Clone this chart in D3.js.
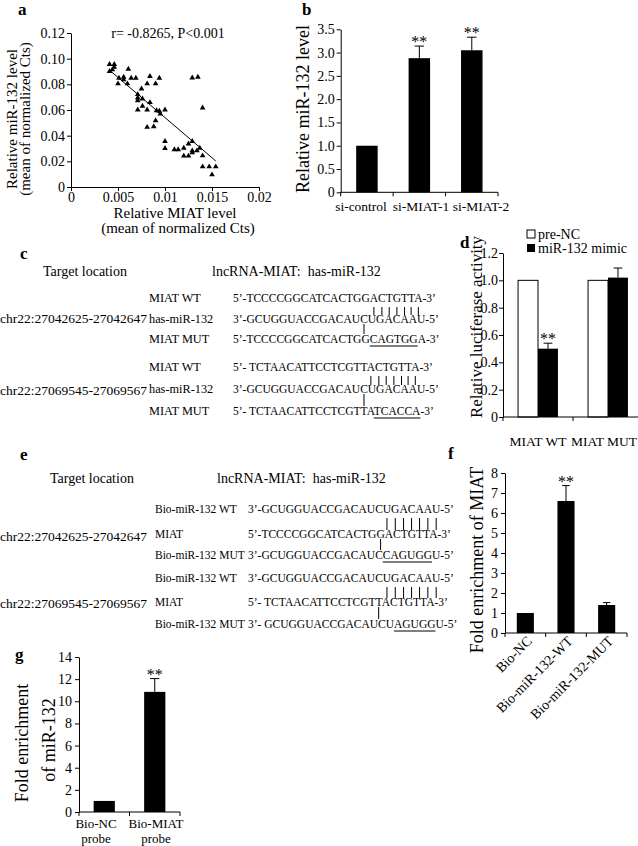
<!DOCTYPE html>
<html><head><meta charset="utf-8">
<script src="https://cdn.jsdelivr.net/npm/d3@7"></script>
<style>
body{margin:0;background:#fff;}
svg text{font-family:"Liberation Serif","Times New Roman",serif;fill:#000;}
</style></head><body>
<svg id="fig" width="638" height="846"></svg>
<script>
// ---------------- DATA ----------------
// panel a : scatter
const scatterX = [0.0041,0.0046,0.0041,0.0044,0.0046,0.0051,0.0056,0.0056,0.0050,0.0061,0.0064,0.0060,0.0069,0.0075,0.0081,0.0084,0.0090,0.0094,
  0.0071,0.0071,0.0071,0.0076,0.0084,0.0071,0.0076,0.0081,0.0091,0.0094,0.0095,0.0100,0.0090,0.0088,0.0081,
  0.0100,0.0100,0.0110,0.0114,0.0120,0.0120,0.0125,0.0125,0.0129,0.0129,0.0129,0.0134,0.0137,0.0140,0.0140,0.0147,0.0154,0.0150,
  0.0129,0.0135,0.0140];
const scatterY = [0.0956,0.0956,0.0901,0.0914,0.0935,0.0849,0.0857,0.0836,0.0805,0.0919,0.0849,0.0805,0.0849,0.0765,0.0805,0.0862,0.0805,0.0849,
  0.0721,0.0695,0.0674,0.0687,0.0659,0.0601,0.0630,0.0601,0.0596,0.0591,0.0570,0.0601,0.0518,0.0471,0.0466,
  0.0356,0.0302,0.0291,0.0291,0.0304,0.0242,0.0242,0.0336,0.0356,0.0283,0.0268,0.0283,0.0304,0.0244,0.0158,0.0158,0.0158,0.0096,
  0.0851,0.0857,0.0617];
const trendX = [0.0041, 0.0154];
const trendY = [0.0910, 0.0203];
const aXTicks = [0, 0.005, 0.01, 0.015, 0.02];
const aXTickLabels = ["0","0.005","0.01","0.015","0.02"];
const aYTicks = [0, 0.02, 0.04, 0.06, 0.08, 0.10, 0.12];
const aYTickLabels = ["0","0.02","0.04","0.06","0.08","0.10","0.12"];
const aStat = "r= -0.8265, P<0.001";

// panel b
const bCategories = ["si-control","si-MIAT-1","si-MIAT-2"];
const bValues = [1.0, 2.88, 3.05];
const bErrors = [0, 0.26, 0.28];
const bStars = ["", "**", "**"];
const bYTicks = [0,0.5,1.0,1.5,2.0,2.5,3.0,3.5];
const bYTickLabels = ["0","0.5","1.0","1.5","2.0","2.5","3.0","3.5"];

// panel c
const cLocations = ["chr22:27042625-27042647","chr22:27069545-27069567"];
const cRowLabels = ["MIAT WT","has-miR-132","MIAT MUT"];
const cSeqs1 = ["5’-TCCCCGGCATCACTGGACTGTTA-3’","3’-GCUGGUACCGACAUCUGACAAU-5’","5’-TCCCCGGCATCACTGGCAGTGGA-3’"];
const cSeqs2 = ["5’- TCTAACATTCCTCGTTACTGTTA-3’","3’-GCUGGUACCGACAUCUGACAAU-5’","5’- TCTAACATTCCTCGTTATCACCA-3’"];
const cPairIdx = [[19,20,21,22,23,24,25],[20,21,22,23,24,25,26]];
const cTickIdx = [17,17];
const cUnderline = [[19,24],[21,26]];

// panel d
const dCategories = ["MIAT WT","MIAT MUT"];
const dSeries = ["pre-NC","miR-132 mimic"];
const dPreNC = [1.0, 1.0];
const dMimic = [0.50, 1.02];
const dMimicErr = [0.04, 0.07];
const dStars = ["**", ""];
const dYTicks = [0,0.2,0.4,0.6,0.8,1.0,1.2];
const dYTickLabels = ["0","0.2","0.4","0.6","0.8","1.0","1.2"];

// panel e
const eRowLabels = ["Bio-miR-132 WT","MIAT","Bio-miR-132 MUT"];
const eSeqs1 = ["3’-GCUGGUACCGACAUCUGACAAU-5’","5’-TCCCCGGCATCACTGGACTGTTA-3’","3’-GCUGGUACCGACAUCCAGUGGU-5’"];
const eSeqs2 = ["3’-GCUGGUACCGACAUCUGACAAU-5’","5’- TCTAACATTCCTCGTTACTGTTA-3’","3’- GCUGGUACCGACAUCUAGUGGU-5’"];
const ePairIdx = [[18,19,20,21,22,23,24],[18,19,20,21,22,23,24]];
const eTickIdx = [18,19];
const eUnderline = [[18,23],[20,24]];

// panel f
const fCategories = ["Bio-NC","Bio-miR-132-WT","Bio-miR-132-MUT"];
const fValues = [1.0, 6.6, 1.4];
const fErrors = [0, 0.77, 0.12];
const fStars = ["", "**", ""];
const fYTicks = [0,1,2,3,4,5,6,7,8];

// panel g
const gCategories = [["Bio-NC","probe"],["Bio-MIAT","probe"]];
const gValues = [1.0, 10.85];
const gErrors = [0, 1.2];
const gStars = ["", "**"];
const gYTicks = [0,2,4,6,8,10,12,14];

// ---------------- HELPERS ----------------
const svg = d3.select("#fig");
svg.append("rect").attr("width",638).attr("height",846).attr("fill","#fff");

function text(g, x, y, s, size, o = {}) {
  const t = g.append("text").attr("x", x).attr("y", y).text(s)
    .style("font-size", size + "px");
  if (o.anchor) t.attr("text-anchor", o.anchor);
  if (o.bold) t.style("font-weight", "bold");
  if (o.rotate) t.attr("transform", `rotate(${o.rotate},${x},${y})`);
  if (o.pre) t.style("white-space", "pre");
  return t;
}
function styleAxis(g, size = 14) {
  g.selectAll("path.domain").attr("stroke", "#000").attr("stroke-width", 1);
  g.selectAll(".tick line").attr("stroke", "#000");
  g.selectAll(".tick text").style("font-size", size + "px").attr("fill", "#000")
    .style("font-family", "'Liberation Serif','Times New Roman',serif");
}
function leftAxis(g, y, x0, ticks, labels, pad = 2) {
  g.append("g").attr("transform", `translate(${x0},0)`)
    .call(d3.axisLeft(y).tickValues(ticks).tickFormat((d, i) => labels ? labels[i] : d3.format("d")(d))
      .tickSize(4).tickSizeOuter(0).tickPadding(pad))
    .call(styleAxis);
}
function bandAxis(g, x, y0, n) {
  const r = x.range();
  g.append("line").attr("x1", r[0]).attr("x2", r[1]).attr("y1", y0).attr("y2", y0).attr("stroke", "#000");
  for (let i = 0; i <= n; i++) {
    const xx = r[0] + i * x.step();
    g.append("line").attr("x1", xx).attr("x2", xx).attr("y1", y0).attr("y2", y0 + 4).attr("stroke", "#000");
  }
}
function errBar(g, cx, bw, yTop, yVal) {
  g.append("line").attr("x1", cx).attr("x2", cx).attr("y1", yVal).attr("y2", yTop).attr("stroke", "#000");
  g.append("line").attr("x1", cx - bw * 0.22).attr("x2", cx + bw * 0.22).attr("y1", yTop).attr("y2", yTop).attr("stroke", "#000");
}
function stars(g, cx, yTop, s) {
  if (s) text(g, cx, yTop + 1, s, 16, { anchor: "middle" });
}

// ---------------- PANEL a ----------------
{
  const g = svg.append("g");
  const x = d3.scaleLinear().domain([0, 0.02]).range([71, 259]);
  const y = d3.scaleLinear().domain([0, 0.12]).range([187, 33]);
  g.append("g").attr("transform", `translate(0,${y(0)})`)
    .call(d3.axisBottom(x).tickValues(aXTicks).tickFormat((d, i) => aXTickLabels[i]).tickSize(4).tickSizeOuter(0).tickPadding(1))
    .call(styleAxis);
  leftAxis(g, y, x(0), aYTicks, aYTickLabels);
  g.append("line").attr("x1", x(trendX[0])).attr("y1", y(trendY[0]))
    .attr("x2", x(trendX[1])).attr("y2", y(trendY[1])).attr("stroke", "#000").attr("stroke-width", 1);
  const tri = d3.symbol().type(d3.symbolTriangle).size(14);
  g.selectAll("path.pt").data(scatterX.map((d, i) => [d, scatterY[i]])).join("path")
    .attr("class", "pt").attr("d", tri)
    .attr("transform", d => `translate(${x(d[0])},${y(d[1])})`).attr("fill", "#000");
  text(g, 168, 38, aStat, 14, { anchor: "middle" });
  text(g, 17, 119, "Relative miR-132 level", 15, { anchor: "middle", rotate: -90 });
  text(g, 30, 119, "(mean of normalized Cts)", 15, { anchor: "middle", rotate: -90 });
  text(g, 175, 218, "Relative MIAT level", 15, { anchor: "middle" });
  text(g, 178, 233, "(mean of normalized Cts)", 15, { anchor: "middle" });
  text(g, 18, 15, "a", 17, { bold: true });
}

// ---------------- PANEL b ----------------
{
  const g = svg.append("g");
  const x = d3.scaleBand().domain(bCategories).range([340.7, 498]).paddingInner(0.59).paddingOuter(0.295);
  const y = d3.scaleLinear().domain([0, 3.5]).range([192.3, 29.3]);
  const xl = d3.scalePoint().domain(bCategories).range([361, 481]);
  const bw = x.bandwidth();
  g.selectAll("rect.bar").data(bCategories).join("rect").attr("class", "bar")
    .attr("x", d => x(d)).attr("width", bw)
    .attr("y", (d, i) => y(bValues[i])).attr("height", (d, i) => y(0) - y(bValues[i])).attr("fill", "#000");
  bCategories.forEach((c, i) => {
    const cx = x(c) + bw / 2;
    if (bErrors[i]) errBar(g, cx, bw, y(bValues[i] + bErrors[i]), y(bValues[i]));
    stars(g, cx, y(bValues[i] + bErrors[i]), bStars[i]);
    text(g, xl(c), 211, c, 13.5, { anchor: "middle" });
  });
  bandAxis(g, x, y(0), bCategories.length);
  leftAxis(g, y, x.range()[0], bYTicks, bYTickLabels);
  text(g, 309, 109, "Relative miR-132 level", 18, { anchor: "middle", rotate: -90 });
  text(g, 302, 15, "b", 17, { bold: true });
}

// ---------------- sequence blocks (c, e) ----------------
function seqGroup(g, o) {
  const rows = o.seqs.map((s, i) => {
    text(g, o.labelX, o.ys[i], o.labels[i], o.labelSize);
    return text(g, o.seqX, o.ys[i], s, 11.5, { pre: true });
  });
  text(g, o.locX, o.locY, o.loc, 13.5);
  const node = i => rows[i].node();
  const cx = (r, k) => (node(r).getStartPositionOfChar(k).x + node(r).getEndPositionOfChar(k).x) / 2;
  o.pairIdx.forEach(k => {
    const xx = cx(0, k);
    g.append("line").attr("x1", xx).attr("x2", xx).attr("y1", o.ys[0] + 5).attr("y2", o.ys[1] - 8).attr("stroke", "#000");
  });
  const tx = cx(1, o.tickIdx);
  g.append("line").attr("x1", tx).attr("x2", tx).attr("y1", o.ys[1] + 1).attr("y2", o.ys[2] - 9).attr("stroke", "#000");
  const u0 = node(2).getStartPositionOfChar(o.underline[0]).x;
  const u1 = node(2).getEndPositionOfChar(o.underline[1]).x;
  g.append("line").attr("x1", u0).attr("x2", u1).attr("y1", o.ys[2] + 3).attr("y2", o.ys[2] + 3).attr("stroke", "#000");
}
// panel c
{
  const g = svg.append("g");
  text(g, 20, 259, "c", 17, { bold: true });
  text(g, 43, 276, "Target location", 14);
  text(g, 212, 276, "lncRNA-MIAT:  has-miR-132", 14, { pre: true });
  seqGroup(g, { labels: cRowLabels, labelSize: 12.3, seqs: cSeqs1, ys: [302, 323, 343], labelX: 149, seqX: 233,
    loc: cLocations[0], locX: 0, locY: 323, pairIdx: cPairIdx[0], tickIdx: cTickIdx[0], underline: cUnderline[0] });
  seqGroup(g, { labels: cRowLabels, labelSize: 12.3, seqs: cSeqs2, ys: [371, 393, 415], labelX: 149, seqX: 233,
    loc: cLocations[1], locX: 0, locY: 395, pairIdx: cPairIdx[1], tickIdx: cTickIdx[1], underline: cUnderline[1] });
}
// panel e
{
  const g = svg.append("g");
  text(g, 20, 460, "e", 17, { bold: true });
  text(g, 50, 483, "Target location", 14);
  text(g, 217, 483, "lncRNA-MIAT:  has-miR-132", 14, { pre: true });
  seqGroup(g, { labels: eRowLabels, labelSize: 11.5, seqs: eSeqs1, ys: [513, 538, 559], labelX: 155, seqX: 248,
    loc: cLocations[0], locX: 0, locY: 541, pairIdx: ePairIdx[0], tickIdx: eTickIdx[0], underline: eUnderline[0] });
  seqGroup(g, { labels: eRowLabels, labelSize: 11.5, seqs: eSeqs2, ys: [582, 606, 628], labelX: 155, seqX: 248,
    loc: cLocations[1], locX: 0, locY: 608, pairIdx: ePairIdx[1], tickIdx: eTickIdx[1], underline: eUnderline[1] });
}

// ---------------- PANEL d ----------------
{
  const g = svg.append("g");
  const x = d3.scaleBand().domain(dCategories).range([503, 643]).paddingInner(0.43).paddingOuter(0.215);
  const xs = d3.scaleBand().domain(dSeries).range([0, x.bandwidth()]);
  const y = d3.scaleLinear().domain([0, 1.2]).range([417, 253]);
  const sw = xs.bandwidth();
  dCategories.forEach((c, i) => {
    g.append("rect").attr("x", x(c) + xs(dSeries[0])).attr("width", sw)
      .attr("y", y(dPreNC[i])).attr("height", y(0) - y(dPreNC[i])).attr("fill", "#fff").attr("stroke", "#000");
    g.append("rect").attr("x", x(c) + xs(dSeries[1])).attr("width", sw)
      .attr("y", y(dMimic[i])).attr("height", y(0) - y(dMimic[i])).attr("fill", "#000");
    const cx = x(c) + xs(dSeries[1]) + sw / 2;
    errBar(g, cx, sw, y(dMimic[i] + dMimicErr[i]), y(dMimic[i]));
    stars(g, cx, y(dMimic[i] + dMimicErr[i]), dStars[i]);
    text(g, Math.min(x(c) + x.bandwidth() / 2, 604), 446, c, 13.5, { anchor: "middle" });
  });
  bandAxis(g, x, y(0), dCategories.length);
  leftAxis(g, y, 503, dYTicks, dYTickLabels, 1);
  // legend
  g.append("rect").attr("x", 527).attr("y", 230).attr("width", 8).attr("height", 8).attr("fill", "#fff").attr("stroke", "#000");
  text(g, 538, 239, dSeries[0], 14);
  g.append("rect").attr("x", 527).attr("y", 244).attr("width", 8).attr("height", 8).attr("fill", "#000");
  text(g, 538, 253, dSeries[1], 14);
  text(g, 482, 327, "Relative luciferase activity", 17, { anchor: "middle", rotate: -90 });
  text(g, 460, 248, "d", 17, { bold: true });
}

// ---------------- PANEL f ----------------
{
  const g = svg.append("g");
  const x = d3.scaleBand().domain(fCategories).range([505, 627]).paddingInner(0.58).paddingOuter(0.29);
  const y = d3.scaleLinear().domain([0, 8]).range([633, 473]);
  const bw = x.bandwidth();
  g.selectAll("rect.bar").data(fCategories).join("rect").attr("class", "bar")
    .attr("x", d => x(d)).attr("width", bw)
    .attr("y", (d, i) => y(fValues[i])).attr("height", (d, i) => y(0) - y(fValues[i])).attr("fill", "#000");
  fCategories.forEach((c, i) => {
    const cx = x(c) + bw / 2;
    if (fErrors[i]) errBar(g, cx, bw, y(fValues[i] + fErrors[i]), y(fValues[i]));
    stars(g, cx, y(fValues[i] + fErrors[i]), fStars[i]);
    text(g, cx + 7.5, 642, c, 14, { anchor: "end", rotate: -45 });
  });
  bandAxis(g, x, y(0), fCategories.length);
  leftAxis(g, y, 505, fYTicks, null, 3);
  text(g, 483, 560, "Fold enrichment of MIAT", 18, { anchor: "middle", rotate: -90 });
  text(g, 448, 459, "f", 17, { bold: true });
}

// ---------------- PANEL g ----------------
{
  const g = svg.append("g");
  const names = gCategories.map(d => d.join(" "));
  const x = d3.scaleBand().domain(names).range([79, 180]).paddingInner(0.58).paddingOuter(0.29);
  const xl = d3.scalePoint().domain(names).range([96, 156]);
  const y = d3.scaleLinear().domain([0, 14]).range([812, 657]);
  const bw = x.bandwidth();
  g.selectAll("rect.bar").data(names).join("rect").attr("class", "bar")
    .attr("x", d => x(d)).attr("width", bw)
    .attr("y", (d, i) => y(gValues[i])).attr("height", (d, i) => y(0) - y(gValues[i])).attr("fill", "#000");
  names.forEach((c, i) => {
    const cx = x(c) + bw / 2;
    if (gErrors[i]) errBar(g, cx, bw, y(gValues[i] + gErrors[i]), y(gValues[i]));
    stars(g, cx, y(gValues[i] + gErrors[i]), gStars[i]);
    text(g, xl(c), 828, gCategories[i][0], 13, { anchor: "middle" });
    text(g, xl(c), 843, gCategories[i][1], 13, { anchor: "middle" });
  });
  bandAxis(g, x, y(0), names.length);
  leftAxis(g, y, 79, gYTicks, null, 3);
  text(g, 28, 743, "Fold enrichment", 18, { anchor: "middle", rotate: -90 });
  text(g, 55, 740, "of miR-132", 18, { anchor: "middle", rotate: -90 });
  text(g, 15, 660, "g", 17, { bold: true });
}
</script>
</body></html>
